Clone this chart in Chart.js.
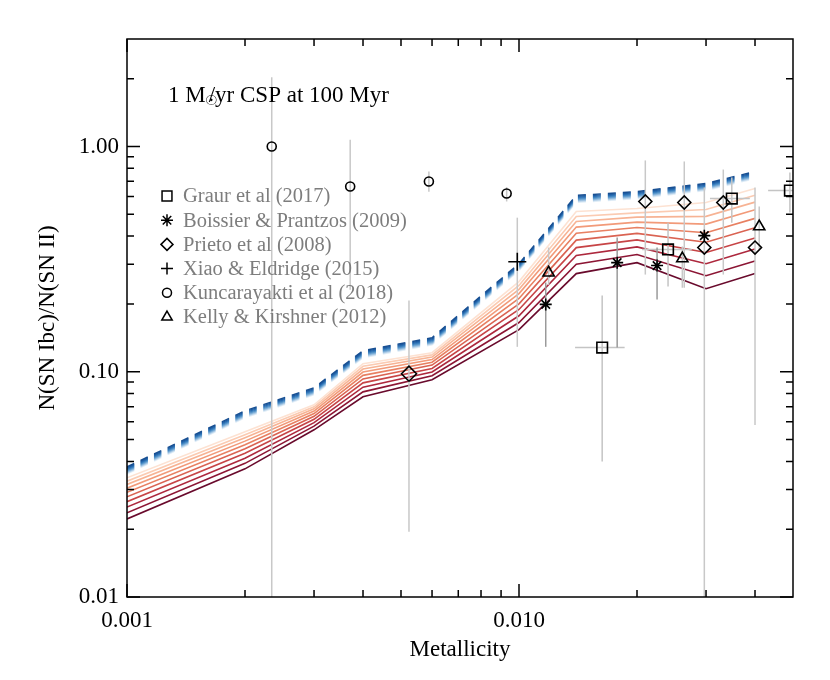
<!DOCTYPE html>
<html><head><meta charset="utf-8">
<script src="https://cdn.jsdelivr.net/npm/chart.js@4.4.1/dist/chart.umd.min.js"></script>
<style>html,body{margin:0;padding:0;background:#fff}canvas{display:block}</style>
</head><body>
<canvas id="c" width="830" height="680"></canvas>
<script>
// ---------------- data ----------------
const metallicity = [0.001, 0.002, 0.003, 0.004, 0.006, 0.010, 0.014, 0.020, 0.030, 0.040];
const blueModel  = [0.0378, 0.0671, 0.0849, 0.124, 0.1416, 0.302, 0.606, 0.631, 0.685, 0.774];
const redModel1  = [0.0338, 0.05412, 0.07134, 0.1085, 0.1215, 0.2512, 0.5142, 0.5302, 0.5639, 0.6506];
const redModel2  = [0.03267, 0.05248, 0.06989, 0.1057, 0.1188, 0.2416, 0.4886, 0.5074, 0.5253, 0.6069];
const redModel3  = [0.03159, 0.05094, 0.06849, 0.1028, 0.1162, 0.2322, 0.4647, 0.4855, 0.4896, 0.5661];
const redModel4  = [0.03041, 0.0492, 0.06688, 0.0997, 0.1133, 0.2222, 0.4387, 0.4617, 0.4524, 0.5233];
const redModel5  = [0.02917, 0.04738, 0.0652, 0.09638, 0.1102, 0.2115, 0.4119, 0.4369, 0.4143, 0.4796];
const redModel6  = [0.02786, 0.04548, 0.06342, 0.0929, 0.107, 0.2003, 0.384, 0.4114, 0.3759, 0.4361];
const redModel7  = [0.02649, 0.04343, 0.06151, 0.08927, 0.1034, 0.189, 0.3557, 0.3848, 0.3382, 0.3928];
const redModel8  = [0.02509, 0.04134, 0.05946, 0.08543, 0.0998, 0.1772, 0.3279, 0.3583, 0.3016, 0.3507];
const redModel9  = [0.02364, 0.03921, 0.05737, 0.08141, 0.096, 0.1654, 0.2999, 0.3314, 0.2668, 0.3105];
const redModel10 = [0.02222, 0.03706, 0.05523, 0.07743, 0.0921, 0.1537, 0.2727, 0.305, 0.2338, 0.2727];

const graurX   = [0.0163, 0.0240, 0.0349, 0.0491];
const graurY   = [0.128, 0.349, 0.587, 0.637];
const graurYLo = [0.040, 0.239, 0.459, 0.509];
const graurYHi = [0.218, 0.459, 0.728, 0.766];
const graurXLo = [0.0139, 0.0206, 0.0307, 0.0432];
const graurXHi = [0.0186, 0.0276, 0.0388, 0.056];

const boissierX   = [0.0117, 0.0178, 0.0225, 0.0297];
const boissierY   = [0.199, 0.305, 0.296, 0.402];
const boissierYLo = [0.129, 0.128, 0.209, 0.385];
const boissierYHi = [0.249, 0.394, 0.356, 0.42];

const prietoX   = [0.00524, 0.0210, 0.0264, 0.0297, 0.0332, 0.0400];
const prietoY   = [0.098, 0.570, 0.564, 0.356, 0.564, 0.356];
const prietoYLo = [0.0195, 0.27, 0.236, 0.005, 0.27, 0.058];
const prietoYHi = [0.207, 0.867, 0.858, 0.657, 0.79, 0.657];

const xiaoX   = [0.0099];
const xiaoY   = [0.308];
const xiaoYLo = [0.129];
const xiaoYHi = [0.483];

const kuncX   = [0.00234, 0.00371, 0.00589, 0.0093];
const kuncY   = [1.0, 0.664, 0.699, 0.618];
const kuncYLo = [0.005, 0.231, 0.63, 0.57];
const kuncYHi = [2.03, 1.07, 0.774, 0.66];

const kellyX   = [0.0119, 0.0261, 0.0410];
const kellyY   = [0.275, 0.318, 0.441];
const kellyYLo = [0.243, 0.236, 0.349];
const kellyYHi = [0.356, 0.36, 0.541];

const xMajorTicks = [0.001, 0.01];
const xMajorLabels = ['0.001', '0.010'];
const xMinorTicks = [0.002, 0.003, 0.004, 0.005, 0.006, 0.007, 0.008, 0.009, 0.02, 0.03, 0.04];
const yMajorTicks = [0.01, 0.1, 1];
const yMajorLabels = ['0.01', '0.10', '1.00'];
const yMinorTicks = [0.02, 0.03, 0.04, 0.05, 0.06, 0.07, 0.08, 0.09, 0.2, 0.3, 0.4, 0.5, 0.6, 0.7, 0.8, 0.9, 2];

const legendLabels = ['Graur et al (2017)', 'Boissier & Prantzos (2009)', 'Prieto et al (2008)',
  'Xiao & Eldridge (2015)', 'Kuncarayakti et al (2018)', 'Kelly & Kirshner (2012)'];
const plotTitle = ['1 M', '\u2609', '/yr CSP at 100 Myr'];

// ---------------- styling ----------------
const SERIF = "'Liberation Serif','DejaVu Serif','Times New Roman',serif";
const redColors = ['#fde2d2', '#fbcbb2', '#f7b394', '#f29a79', '#e88062', '#da6352', '#c74446', '#ad283d', '#8c1534', '#690a2c'];
const blueColors = ['#184f92', '#1f5fa5', '#2b70b4', '#4286c2', '#639ecf', '#8db8dd', '#b8d3ea', '#e0edf7'];

const pts = (xs, ys) => xs.map((x, i) => ({x, y: ys[i]}));

const datasets = [];
const markerDefs = [
  {label: legendLabels[0], xs: graurX, ys: graurY, lo: graurYLo, hi: graurYHi, xlo: graurXLo, xhi: graurXHi, style: 'rect', r: 7.5, ec: '#c4c4c4', lr: 7},
  {label: legendLabels[1], xs: boissierX, ys: boissierY, lo: boissierYLo, hi: boissierYHi, style: 'star', r: 6, ec: '#9a9a9a', lr: 6},
  {label: legendLabels[2], xs: prietoX, ys: prietoY, lo: prietoYLo, hi: prietoYHi, style: 'rectRot', r: [7.5, 6.5, 6.5, 6.5, 6.5, 6.5], ec: '#c8c8c8', lr: 6},
  {label: legendLabels[3], xs: xiaoX, ys: xiaoY, lo: xiaoYLo, hi: xiaoYHi, style: 'cross', r: 9, ec: '#c8c8c8', lr: 6},
  {label: legendLabels[4], xs: kuncX, ys: kuncY, lo: kuncYLo, hi: kuncYHi, style: 'circle', r: 4.5, ec: '#c8c8c8', lr: 4.5},
  {label: legendLabels[5], xs: kellyX, ys: kellyY, lo: kellyYLo, hi: kellyYHi, style: 'triangle', r: 6.5, ec: '#c8c8c8', lr: 6},
];
markerDefs.forEach(m => {
  datasets.push({
    type: 'scatter', label: m.label, data: pts(m.xs, m.ys), order: 0,
    pointStyle: m.style, pointRadius: m.r, pointBorderColor: '#000', pointBackgroundColor: 'rgba(0,0,0,0)',
    pointBorderWidth: 1.6, errDef: m
  });
});
const redModels = [redModel1, redModel2, redModel3, redModel4, redModel5, redModel6, redModel7, redModel8, redModel9, redModel10];
redModels.forEach((arr, i) => {
  datasets.push({
    type: 'line', label: 'model ' + (i + 1), data: pts(metallicity, arr), order: 1,
    borderColor: redColors[i], borderWidth: 1.6, pointRadius: 0, fill: false, tension: 0
  });
});
blueColors.forEach((c, k) => {
  datasets.push({
    type: 'line', label: 'blue band ' + k, data: pts(metallicity, blueModel), order: 2,
    borderColor: c, borderWidth: 1.5, borderDash: [8, 7], borderCapStyle: 'butt',
    pointRadius: 0, fill: false, tension: 0, yShift: k
  });
});

let errDrawn = false;
const customPlugin = {
  id: 'custom',
  beforeDatasetsDraw() { errDrawn = false; },
  beforeDatasetDraw(chart, args) {
    const ds = chart.data.datasets[args.index];
    const ctx = chart.ctx;
    if (ds.yShift !== undefined) { ctx.save(); ctx.translate(0, ds.yShift); }
    if (ds.errDef && !errDrawn) {
      errDrawn = true;
      const xs = chart.scales.x, ys = chart.scales.y, a = chart.chartArea;
      ctx.save();
      ctx.beginPath(); ctx.rect(a.left, a.top, a.right - a.left, a.bottom - a.top); ctx.clip();
      ctx.lineWidth = 1.5;
      markerDefs.forEach(m => {
        ctx.strokeStyle = m.ec;
        m.xs.forEach((x, i) => {
          const px = xs.getPixelForValue(x);
          ctx.beginPath();
          ctx.moveTo(px, ys.getPixelForValue(m.lo[i]));
          ctx.lineTo(px, ys.getPixelForValue(m.hi[i]));
          ctx.stroke();
          if (m.xlo) {
            const py = ys.getPixelForValue(m.ys[i]);
            ctx.beginPath();
            ctx.moveTo(xs.getPixelForValue(m.xlo[i]), py);
            ctx.lineTo(xs.getPixelForValue(m.xhi[i]), py);
            ctx.stroke();
          }
        });
      });
      ctx.restore();
    }
  },
  afterDatasetDraw(chart, args) {
    const ds = chart.data.datasets[args.index];
    if (ds.yShift !== undefined) chart.ctx.restore();
  },
  afterDraw(chart) {
    const ctx = chart.ctx, a = chart.chartArea, xs = chart.scales.x, ys = chart.scales.y;
    ctx.save();
    ctx.strokeStyle = '#000'; ctx.lineWidth = 1.5;
    ctx.strokeRect(a.left, a.top, a.right - a.left, a.bottom - a.top);
    const MAJ = 13, MIN = 7;
    const xt = (v, L) => { const p = xs.getPixelForValue(v);
      ctx.beginPath(); ctx.moveTo(p, a.bottom); ctx.lineTo(p, a.bottom - L);
      ctx.moveTo(p, a.top); ctx.lineTo(p, a.top + L); ctx.stroke(); };
    const yt = (v, L) => { const p = ys.getPixelForValue(v);
      ctx.beginPath(); ctx.moveTo(a.left, p); ctx.lineTo(a.left + L, p);
      ctx.moveTo(a.right, p); ctx.lineTo(a.right - L, p); ctx.stroke(); };
    xMajorTicks.forEach(v => xt(v, MAJ)); xMinorTicks.forEach(v => xt(v, MIN));
    yMajorTicks.forEach(v => yt(v, MAJ)); yMinorTicks.forEach(v => yt(v, MIN));

    // title
    ctx.fillStyle = '#000';
    ctx.font = '23px ' + SERIF; ctx.textBaseline = 'alphabetic'; ctx.textAlign = 'left';
    const tx = 168, ty = 102;
    ctx.fillText(plotTitle[0], tx, ty);
    const w0 = ctx.measureText(plotTitle[0]).width;
    ctx.font = "14px 'DejaVu Sans'"; ctx.textAlign = 'center'; ctx.textBaseline = 'middle';
    ctx.fillText(plotTitle[1], tx + w0 + 5.5, ty - 1);
    ctx.font = '23px ' + SERIF; ctx.textAlign = 'left'; ctx.textBaseline = 'alphabetic';
    ctx.fillText(plotTitle[2], tx + w0 + 3, ty);

    // legend
    const lx = 167, ly0 = 196, dy = 24.2;
    markerDefs.forEach((m, i) => {
      const y = ly0 + dy * i;
      ctx.strokeStyle = '#000'; ctx.fillStyle = 'rgba(0,0,0,0)'; ctx.lineWidth = 1.5;
      Chart.helpers.drawPoint(ctx, {pointStyle: m.style, radius: m.lr, rotation: 0, borderWidth: 1.5}, lx, y);
      ctx.fillStyle = '#7d7d7d'; ctx.font = '20.5px ' + SERIF; ctx.textBaseline = 'middle'; ctx.textAlign = 'left';
      ctx.fillText(m.label, 183, y + 1);
    });
    ctx.restore();
  }
};

const tickFont = {family: SERIF, size: 23};
new Chart(document.getElementById('c'), {
  data: {datasets},
  options: {
    responsive: false, animation: false,
    layout: {padding: {top: 39, right: 37, left: 0, bottom: 0}},
    plugins: {legend: {display: false}, tooltip: {enabled: false}},
    scales: {
      x: {
        type: 'logarithmic', min: 0.001, max: 0.05,
        afterBuildTicks: s => { s.ticks = xMajorTicks.map(v => ({value: v, major: true})); },
        afterFit: s => { s.height = 83; },
        ticks: {autoSkip: false, maxRotation: 0, color: '#000', font: tickFont, padding: 10,
          callback: (v, i) => xMajorLabels[i]},
        grid: {display: false, drawTicks: false}, border: {display: false},
        title: {display: true, text: 'Metallicity', color: '#000', font: tickFont, padding: {top: 0, bottom: 16}}
      },
      y: {
        type: 'logarithmic', min: 0.01, max: 3,
        afterBuildTicks: s => { s.ticks = yMajorTicks.map(v => ({value: v, major: true})); },
        afterFit: s => { s.width = 127; },
        ticks: {autoSkip: false, color: '#000', font: tickFont, padding: 8,
          callback: (v, i) => yMajorLabels[i]},
        grid: {display: false, drawTicks: false}, border: {display: false},
        title: {display: true, text: 'N(SN Ibc)/N(SN II)', color: '#000', font: tickFont, padding: {top: 34, bottom: 0}}
      }
    }
  },
  plugins: [customPlugin]
});
</script>
</body></html>
